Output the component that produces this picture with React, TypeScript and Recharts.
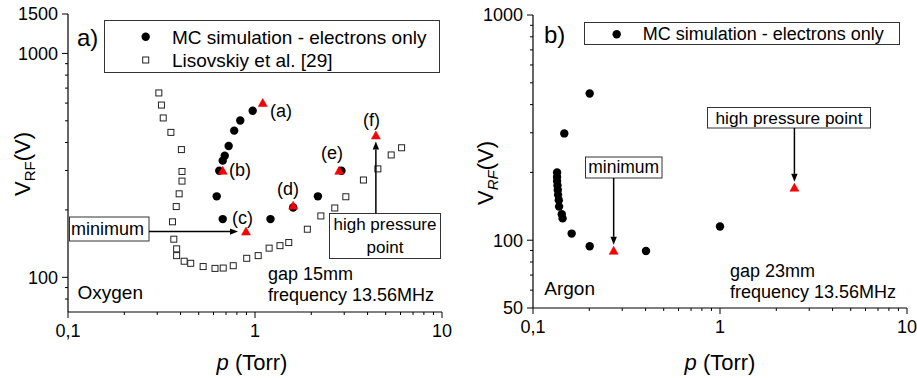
import { ScatterChart, Scatter, XAxis, YAxis } from 'recharts';

if (typeof document !== 'undefined') document.body.style.margin = '0';

const FONT = '"Liberation Sans", Arial, Helvetica, sans-serif';

// axis ticks (log scales, minor ticks included)
const P_TICKS = [0.1, 0.2, 0.3, 0.4, 0.5, 0.6, 0.7, 0.8, 0.9, 1, 2, 3, 4, 5, 6, 7, 8, 9, 10];
const P_MAJOR = [0.1, 1, 10];
const O2_V_TICKS = [80, 90, 100, 200, 300, 400, 500, 600, 700, 800, 900, 1000, 1500];
const O2_V_MAJOR = [100, 1000, 1500];
const AR_V_TICKS = [50, 60, 70, 80, 90, 100, 200, 300, 400, 500, 600, 700, 800, 900, 1000];
const AR_V_MAJOR = [50, 100, 1000];

// a) Oxygen - MC simulation (electrons only)
const O2_MC_P = [0.644, 0.624, 0.672, 0.672, 0.689, 0.723, 0.774, 0.834, 0.972, 1.21, 1.6, 2.17, 2.9];
const O2_MC_V = [299, 230, 182, 332, 349, 386, 452, 502, 555, 182, 205, 230, 299];
// marked points (a)..(f)
const O2_MARK_P = [1.1, 0.672, 0.895, 1.6, 2.82, 4.43];
const O2_MARK_V = [601, 299, 160, 209, 299, 430];
// Lisovskiy et al. [29]
const O2_LIS_P = [0.306, 0.316, 0.323, 0.355, 0.404, 0.407, 0.407, 0.393, 0.379, 0.362, 0.368, 0.381, 0.381, 0.418, 0.453, 0.528, 0.611, 0.676, 0.765, 0.903, 1.04, 1.19, 1.36, 1.515, 1.905, 2.25, 2.67, 3.06, 3.8, 4.54, 5.35, 6.08];
const O2_LIS_V = [666, 588, 515, 444, 372, 297, 269, 236, 207, 177, 148, 134, 125, 118, 115.5, 111.7, 109.6, 110, 112.7, 121.6, 125, 135, 138.5, 143, 164, 188, 204, 229, 272, 305, 352, 379];

// b) Argon - MC simulation (electrons only)
const AR_MC_P = [0.201, 0.147, 0.1345, 0.1345, 0.1345, 0.1352, 0.1357, 0.1362, 0.1374, 0.1379, 0.1425, 0.144, 0.161, 0.201, 0.402, 1.0];
const AR_MC_V = [448, 298, 200, 191, 183, 175, 167, 159, 150.5, 141, 130.5, 125, 107, 94, 89.6, 115];
const AR_MARK_P = [0.27, 2.5];
const AR_MARK_V = [89.7, 171];

const zip = (ps: number[], vs: number[]) => ps.map((p, i) => ({ p, v: vs[i] }));

const fmtTick = (v: number) => (v === 0.1 ? '0,1' : String(v));

function makeTick(orient: string, majors: number[], labels: boolean) {
  return (props: any) => {
    const { x, y, payload } = props;
    const v = payload.value;
    const major = majors.includes(v);
    const len = major ? 6 : 3;
    let line: any = null;
    let text: any = null;
    if (orient === 'left') {
      line = <line x1={x - len} x2={x} y1={y} y2={y} />;
      if (labels && major) text = <text x={x - 10} y={y} dy="0.35em" textAnchor="end">{fmtTick(v)}</text>;
    } else if (orient === 'right') {
      line = <line x1={x} x2={x + len} y1={y} y2={y} />;
    } else if (orient === 'bottom') {
      line = <line x1={x} x2={x} y1={y} y2={y + len} />;
      if (labels && major) text = <text x={x} y={y + 25} textAnchor="middle">{fmtTick(v)}</text>;
    } else {
      line = <line x1={x} x2={x} y1={y - len} y2={y} />;
    }
    return (
      <g>
        <g stroke="#000" strokeWidth={1}>{line}</g>
        {text && <g fill="#000" fontSize={18} fontFamily={FONT}>{text}</g>}
      </g>
    );
  };
}

const circleShape = (props: any) => <circle cx={props.cx} cy={props.cy} r={4.2} fill="#000" />;
const squareShape = (props: any) => (
  <rect x={props.cx - 3} y={props.cy - 3} width={6} height={6} fill="#fff" stroke="#222" strokeWidth={1} />
);
const triShape = (props: any) => (
  <polygon
    points={`${props.cx},${props.cy - 4.5} ${props.cx - 4.5},${props.cy + 3.5} ${props.cx + 4.5},${props.cy + 3.5}`}
    fill="#f00"
    stroke="#d00"
    strokeWidth={0.5}
  />
);

function Arrow({ x1, y1, x2, y2 }: any) {
  const a = Math.atan2(y2 - y1, x2 - x1);
  const L = 8, W = 3.2;
  const bx = x2 - L * Math.cos(a), by = y2 - L * Math.sin(a);
  const px = -Math.sin(a) * W, py = Math.cos(a) * W;
  return (
    <g>
      <line x1={x1} y1={y1} x2={bx} y2={by} stroke="#000" strokeWidth={1.5} />
      <polygon points={`${x2},${y2} ${bx + px},${by + py} ${bx - px},${by - py}`} fill="#000" />
    </g>
  );
}

// plot geometry helpers (same margins as the charts below)
const logMap = (v: number, lo: number, hi: number, a: number, b: number) =>
  a + ((Math.log10(v) - Math.log10(lo)) / (Math.log10(hi) - Math.log10(lo))) * (b - a);

function Frame({ width, height, margin, yWidth, xHeight, yDomain, yTicks, yMajor, children }: any) {
  return (
    <ScatterChart width={width} height={height} margin={margin}>
      <XAxis dataKey="p" type="number" scale="log" domain={[0.1, 10]} allowDataOverflow ticks={P_TICKS}
        interval={0} height={xHeight} tickSize={0} tickMargin={0} stroke="#000" strokeWidth={1.2}
        tick={makeTick('bottom', P_MAJOR, true)} />
      <XAxis xAxisId="top" orientation="top" dataKey="p" type="number" scale="log" domain={[0.1, 10]} allowDataOverflow
        ticks={P_TICKS} interval={0} height={0} tickSize={0} tickMargin={0} stroke="#000" strokeWidth={1.2}
        tick={makeTick('top', P_MAJOR, false)} />
      <YAxis dataKey="v" type="number" scale="log" domain={yDomain} allowDataOverflow ticks={yTicks} interval={0}
        width={yWidth} tickSize={0} tickMargin={0} stroke="#000" strokeWidth={1.2}
        tick={makeTick('left', yMajor, true)} />
      <YAxis yAxisId="right" orientation="right" dataKey="v" type="number" scale="log" domain={yDomain} allowDataOverflow
        ticks={yTicks} interval={0} width={0} tickSize={0} tickMargin={0} stroke="#000" strokeWidth={1.2}
        tick={makeTick('right', yMajor, false)} />
      {children}
    </ScatterChart>
  );
}

function AxisTitles({ xc, yx, yc, italicSub }: any) {
  return (
    <g fontFamily={FONT} fill="#000">
      <text x={xc} y={370} textAnchor="middle" fontSize={22}>
        <tspan fontStyle="italic">p</tspan> (Torr)
      </text>
      <text x={yx} y={yc} textAnchor="middle" fontSize={22} transform={`rotate(-90, ${yx}, ${yc})`}>
        V<tspan fontSize={15} dy={5} fontStyle={italicSub ? 'italic' : 'normal'}>RF</tspan>
        <tspan dy={-5}>(V)</tspan>
      </text>
    </g>
  );
}

function OxygenPanel() {
  const W = 460, H = 378;
  const x0 = 68, x1 = 442, y0 = 14, y1 = 312;
  const xp = (p: number) => logMap(p, 0.1, 10, x0, x1);
  const yp = (v: number) => logMap(v, 70, 1500, y1, y0);
  return (
    <div style={{ position: 'absolute', left: 0, top: 0, width: W, height: H }}>
      <Frame width={W} height={H} margin={{ top: 14, right: 18, bottom: 0, left: 8 }} yWidth={60} xHeight={66}
        yDomain={[70, 1500]} yTicks={O2_V_TICKS} yMajor={O2_V_MAJOR}>
        <Scatter data={zip(O2_LIS_P, O2_LIS_V)} shape={squareShape} isAnimationActive={false} />
        <Scatter data={zip(O2_MC_P, O2_MC_V)} shape={circleShape} isAnimationActive={false} />
        <Scatter data={zip(O2_MARK_P, O2_MARK_V)} shape={triShape} isAnimationActive={false} />
      </Frame>
      <svg width={W} height={H} style={{ position: 'absolute', left: 0, top: 0, pointerEvents: 'none' }}>
        <g fontFamily={FONT} fill="#000">
          <text x={77} y={46} fontSize={24}>a)</text>
          <rect x={104.5} y={20.5} width={335} height={52} fill="#fff" stroke="#333" strokeWidth={1} />
          <circle cx={145.7} cy={36.7} r={4.2} fill="#000" />
          <text x={172} y={43.5} fontSize={19}>MC simulation - electrons only</text>
          <rect x={142.7} y={57} width={6} height={6} fill="#fff" stroke="#222" />
          <text x={172} y={67} fontSize={19}>Lisovskiy et al. [29]</text>
          <text x={270} y={117} fontSize={18}>(a)</text>
          <text x={229} y={175.5} fontSize={18}>(b)</text>
          <text x={232} y={223.5} fontSize={18}>(c)</text>
          <text x={277} y={195} fontSize={18}>(d)</text>
          <text x={321} y={158.5} fontSize={18}>(e)</text>
          <text x={363} y={126} fontSize={18}>(f)</text>
          <rect x={69.5} y={217} width={79.5} height={24} fill="#fff" stroke="#333" />
          <text x={71} y={235} fontSize={18}>minimum</text>
          <rect x={329.5} y={213.5} width={111} height={45} fill="#fff" stroke="#333" />
          <text x={385} y={230} fontSize={17} textAnchor="middle">high pressure</text>
          <text x={385} y={252.5} fontSize={17} textAnchor="middle">point</text>
          <text x={268} y={280} fontSize={18}>gap 15mm</text>
          <text x={268} y={300.5} fontSize={18}>frequency 13.56MHz</text>
          <text x={77.5} y={299} fontSize={19}>Oxygen</text>
        </g>
        <Arrow x1={149} y1={yp(O2_MARK_V[2])} x2={xp(O2_MARK_P[2]) - 8} y2={yp(O2_MARK_V[2])} />
        <Arrow x1={xp(O2_MARK_P[5])} y1={213.5} x2={xp(O2_MARK_P[5])} y2={yp(O2_MARK_V[5]) + 6} />
        <AxisTitles xc={252} yx={30} yc={164} italicSub={false} />
      </svg>
    </div>
  );
}

function ArgonPanel() {
  const W = 457, H = 378;
  const x0 = 73, x1 = 447, y0 = 15, y1 = 308;
  const xp = (p: number) => logMap(p, 0.1, 10, x0, x1);
  const yp = (v: number) => logMap(v, 50, 1000, y1, y0);
  return (
    <div style={{ position: 'absolute', left: 460, top: 0, width: W, height: H }}>
      <Frame width={W} height={H} margin={{ top: 15, right: 10, bottom: 0, left: 13 }} yWidth={60} xHeight={70}
        yDomain={[50, 1000]} yTicks={AR_V_TICKS} yMajor={AR_V_MAJOR}>
        <Scatter data={zip(AR_MC_P, AR_MC_V)} shape={circleShape} isAnimationActive={false} />
        <Scatter data={zip(AR_MARK_P, AR_MARK_V)} shape={triShape} isAnimationActive={false} />
      </Frame>
      <svg width={W} height={H} style={{ position: 'absolute', left: 0, top: 0, pointerEvents: 'none' }}>
        <g fontFamily={FONT} fill="#000">
          <text x={84} y={43} fontSize={24}>b)</text>
          <rect x={124.5} y={22.5} width={315} height={22} fill="#fff" stroke="#333" />
          <circle cx={156.7} cy={34.3} r={4.2} fill="#000" />
          <text x={182.7} y={40} fontSize={18}>MC simulation - electrons only</text>
          <rect x={247.5} y={107.5} width={163} height={20.5} fill="#fff" stroke="#333" />
          <text x={329} y={123.5} fontSize={17.3} textAnchor="middle">high pressure point</text>
          <rect x={125.5} y={157} width={76.5} height={21} fill="#fff" stroke="#333" />
          <text x={163.7} y={173} fontSize={17.5} textAnchor="middle">minimum</text>
          <text x={270} y={277} fontSize={18}>gap 23mm</text>
          <text x={270} y={297.5} fontSize={18}>frequency 13.56MHz</text>
          <text x={84.3} y={295} fontSize={19}>Argon</text>
        </g>
        <Arrow x1={xp(AR_MARK_P[0])} y1={178} x2={xp(AR_MARK_P[0])} y2={yp(AR_MARK_V[0]) - 6} />
        <Arrow x1={xp(AR_MARK_P[1])} y1={128} x2={xp(AR_MARK_P[1])} y2={yp(AR_MARK_V[1]) - 6} />
        <AxisTitles xc={260} yx={33} yc={173} italicSub={true} />
      </svg>
    </div>
  );
}

export default function App() {
  return (
    <div style={{ position: 'relative', width: 917, height: 378, background: '#fff', overflow: 'hidden' }}>
      <OxygenPanel />
      <ArgonPanel />
    </div>
  );
}
